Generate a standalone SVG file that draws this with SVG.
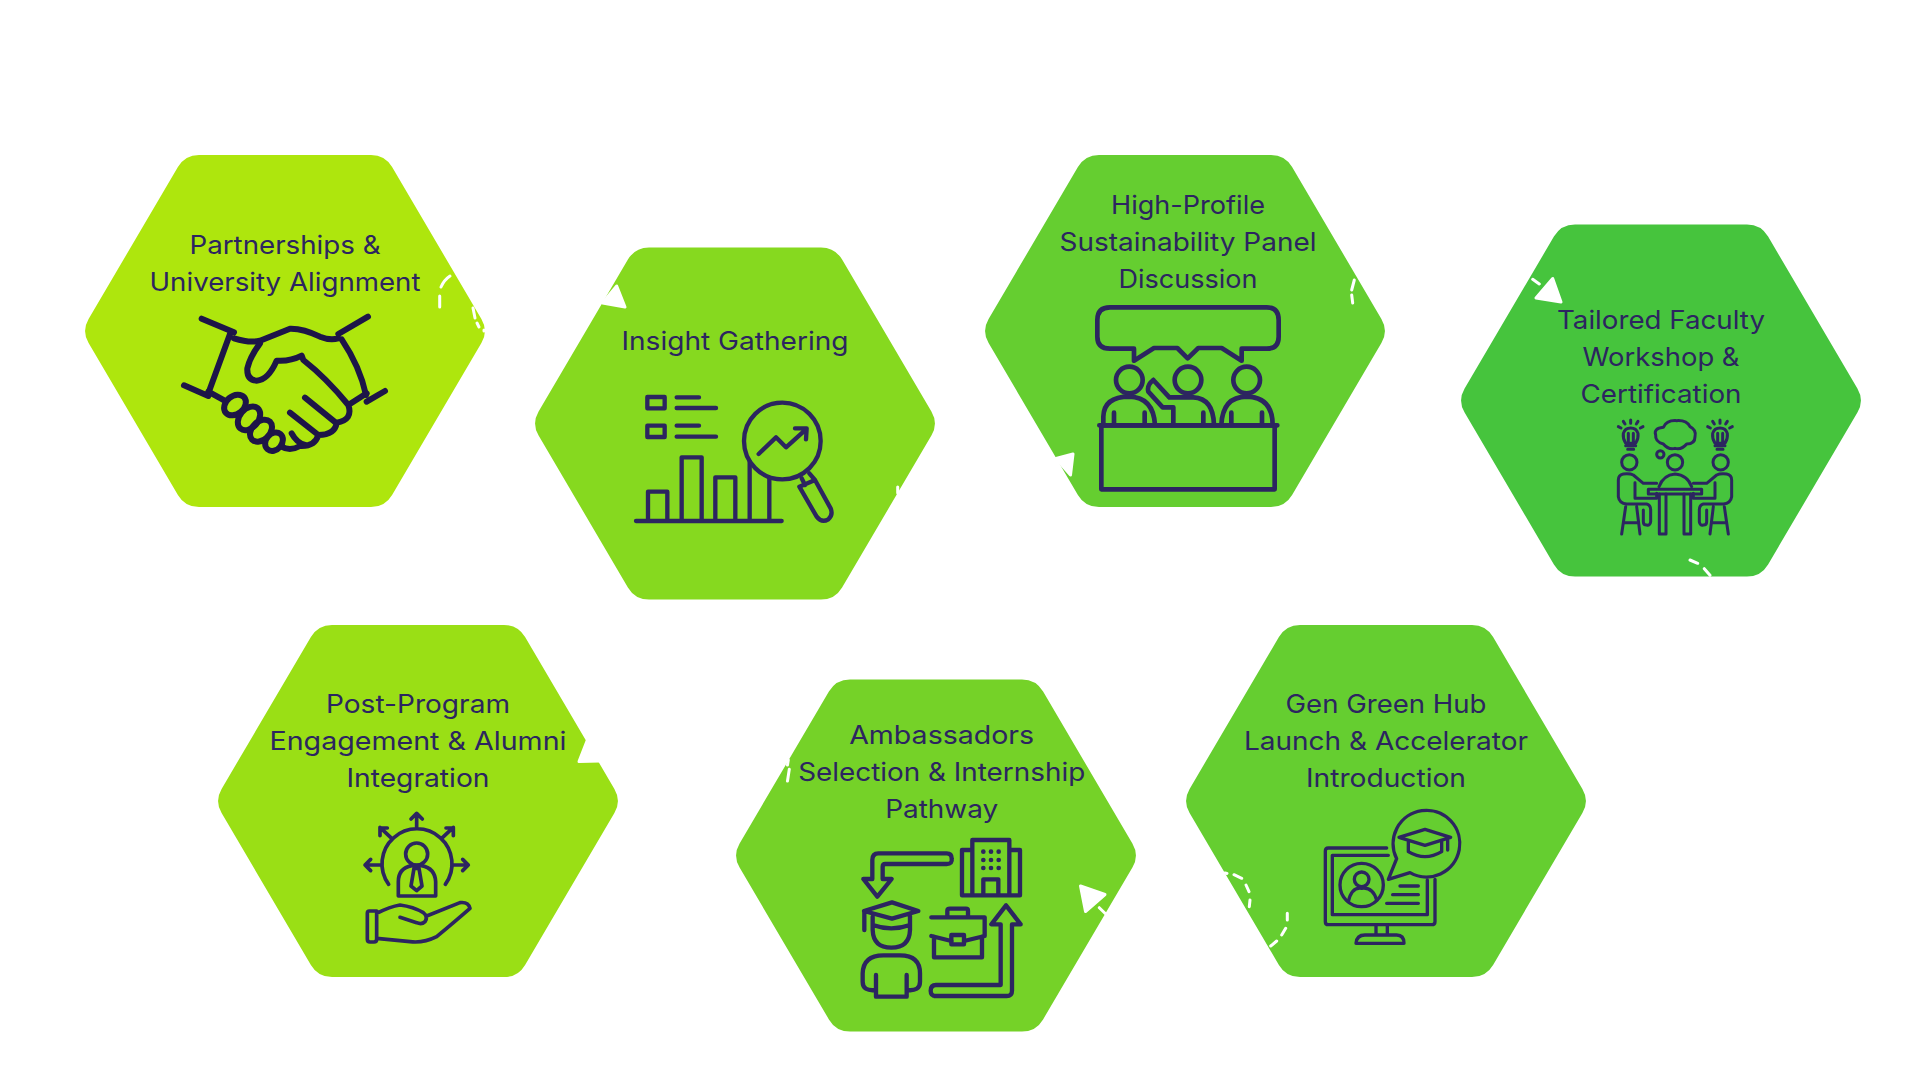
<svg xmlns="http://www.w3.org/2000/svg" width="1920" height="1080" viewBox="0 0 1920 1080">
<style>
text{font-family:"Inter","Open Sans","Liberation Sans",sans-serif;font-size:25.5px;fill:#2C2560;text-anchor:middle}
.ic{fill:none;stroke:#2C2560;stroke-linecap:round;stroke-linejoin:round}
.hs{stroke:#1D1548}
.dash{fill:none;stroke:#fff;stroke-width:3;stroke-linecap:round}
.tri{fill:#fff;stroke:#fff;stroke-width:3;stroke-linejoin:round}
</style>
<defs>
<path id="hex" d="M-86-176H86Q100-176 107.100-163.900L196.400-12.100Q203.500 0 196.400 12.100L107.100 163.900Q100 176 86 176H-86Q-100 176-107.100 163.900L-196.400 12.100Q-203.500 0-196.400-12.100L-107.100-163.900Q-100-176-86-176Z"/>
<g id="bulb"><path d="M497 670Q488 655 490 640A23 23 0 0 1 534 640Q536 655 527 670ZM505 640V670M520 640V670M497 677H527M503 688H521M475 620l8 4M490 604l5 8M512 600v10M534 604l-5 8M549 620l-8 4"/></g>
<g id="sitter"><path d="M590 790H550L520 765Q510 760 490 762Q475 765 475 780V830Q478 850 500 852H560Q572 855 572 870V905Q570 918 560 915Q550 915 550 905V870M525 788V835H590V820M497 860L485 942M530 860L540 942M493 908H535"/><circle cx="508" cy="727" r="23"/></g>
</defs>
<rect width="1920" height="1080" fill="#fff"/>

<g id="node-partnerships">
<use href="#hex" x="285" y="331" fill="#AEE60D"/>
<text x="285" y="254" textLength="191" lengthAdjust="spacingAndGlyphs">Partnerships &amp;</text>
<text x="285" y="291" textLength="271" lengthAdjust="spacingAndGlyphs">University Alignment</text>
<g class="ic hs" transform="translate(60 130) scale(.33333)" stroke-width="18">
<path d="M425 566L522 607M372 766L445 798M510 612L445 790M924 560L835 612M975 783L920 815M845 628Q900 710 918 795M522 625Q570 640 600 632Q650 612 690 596Q730 595 780 620Q810 632 835 625"/>
<path d="M600 640Q570 680 562 715Q560 750 590 752Q625 750 650 692Q690 695 725 677L730 690Q800 745 865 825Q880 870 830 878Q825 915 775 915Q765 950 720 948Q690 965 665 950M445 785L490 810M865 825L920 790M735 803L830 880M690 848L775 915M695 910Q710 938 735 945"/>
<ellipse cx="525" cy="825" rx="36" ry="27" transform="rotate(-40 525 825)"/>
<ellipse cx="567" cy="865" rx="40" ry="28" transform="rotate(-50 567 865)"/>
<ellipse cx="603" cy="902" rx="38" ry="27" transform="rotate(-45 603 902)"/>
<ellipse cx="642" cy="935" rx="30" ry="24" transform="rotate(-50 642 935)"/>
</g>
</g>

<g id="node-insight">
<use href="#hex" x="735" y="423.500" fill="#86D91F"/>
<text x="735" y="350" textLength="227" lengthAdjust="spacingAndGlyphs">Insight Gathering</text>
<g class="ic" transform="translate(520 230) scale(.33333)" stroke-width="13">
<rect x="382" y="501" width="52" height="34"/><rect x="382" y="587" width="52" height="34"/>
<path d="M470 502H537M470 534H588M470 587H537M470 620H588M348 873H785M384 873V785H442V873M485 873V682H545V873M586 873V742H646V873M689 873V695M748 873V745"/>
<circle cx="787" cy="633" r="115"/>
<path d="M716 672L768 622L798 652L858 598M825 595H860L858 628M845 745L855 765M868 730L885 750M838 770L890 860Q905 880 925 868Q940 855 932 835L885 750Z"/>
</g>
</g>

<g id="node-panel">
<use href="#hex" x="1185" y="331" fill="#65CE30"/>
<text x="1188" y="214" textLength="154" lengthAdjust="spacingAndGlyphs">High-Profile</text>
<text x="1188" y="251" textLength="257" lengthAdjust="spacingAndGlyphs">Sustainability Panel</text>
<text x="1188" y="288" textLength="139" lengthAdjust="spacingAndGlyphs">Discussion</text>
<g class="ic" transform="translate(980 140) scale(.33333)" stroke-width="14">
<path d="M462 662V626H390Q352 626 352 590V540Q352 502 390 502H860Q896 502 896 540V590Q896 626 860 626H785V662L725 624H655L623 655L592 624H522Z"/>
<circle cx="448" cy="720" r="40"/><circle cx="624" cy="720" r="40"/><circle cx="800" cy="720" r="40"/>
<path d="M370 855V830Q372 770 448 770Q520 772 525 855M568 772H640Q700 775 702 855M520 720L568 772M520 720Q500 735 505 755L548 802H580V850M724 855Q728 770 800 770Q878 772 878 855M402 818V855M494 818V855M670 818V855M754 818V855M846 818V855M358 856H892"/>
<rect x="364" y="856" width="520" height="192"/>
</g>
</g>

<g id="node-workshop">
<use href="#hex" x="1661" y="400.500" fill="#46C43D"/>
<text x="1661" y="328.700" textLength="208" lengthAdjust="spacingAndGlyphs">Tailored Faculty</text>
<text x="1661" y="365.700" textLength="157" lengthAdjust="spacingAndGlyphs">Workshop &amp;</text>
<text x="1661" y="402.700" textLength="161" lengthAdjust="spacingAndGlyphs">Certification</text>
<g class="ic" transform="translate(1460 220) scale(.33333)" stroke-width="9">
<use href="#bulb"/><use href="#bulb" x="268"/>
<path d="M610 672Q585 665 587 645Q580 625 610 622Q620 600 650 602Q680 600 690 620Q710 630 705 650Q705 672 680 672Q665 690 645 685Q625 690 610 672Z"/>
<circle cx="601" cy="703" r="11"/><circle cx="645" cy="727" r="23"/>
<use href="#sitter"/><use href="#sitter" transform="translate(1290 0) scale(-1 1)"/>
<rect x="565" y="808" width="160" height="14"/>
<path d="M598 822V942H618V822M672 822V942H692V822M597 800Q610 765 645 762Q682 765 695 800"/>
</g>
</g>

<g id="node-post-program">
<use href="#hex" x="418" y="801" fill="#9ADF15"/>
<text x="418" y="712.700" textLength="184" lengthAdjust="spacingAndGlyphs">Post-Program</text>
<text x="418" y="749.700" textLength="297" lengthAdjust="spacingAndGlyphs">Engagement &amp; Alumni</text>
<text x="418" y="786.700" textLength="143" lengthAdjust="spacingAndGlyphs">Integration</text>
<g class="ic" transform="translate(210 620) scale(.33333)" stroke-width="11">
<path d="M536 793A105 105 0 1 1 706 793M620 625V582M603 597L620 580L637 597M515 735H465M482 718L465 735L482 752M725 735H775M758 718L775 735L758 752M695 655L730 622M708 624H730V647M545 655L510 622M510 647V624H532"/>
<circle cx="620" cy="702" r="33"/>
<path d="M565 828V785Q565 745 605 737H635Q675 745 677 785V828ZM612 745L603 798L620 812L636 798L627 745Z"/>
<path d="M500 873H478Q472 873 472 880V958Q472 966 480 966H492Q500 966 500 958ZM500 880Q540 860 570 855Q610 860 640 878Q655 890 645 905Q635 915 620 908L570 892M650 888L750 848Q775 845 780 865Q740 900 680 950Q640 970 600 965L500 955"/>
</g>
</g>

<g id="node-ambassadors">
<use href="#hex" x="936" y="855.500" fill="#75D228"/>
<text x="941.700" y="744" textLength="185" lengthAdjust="spacingAndGlyphs">Ambassadors</text>
<text x="941.700" y="781" textLength="287" lengthAdjust="spacingAndGlyphs">Selection &amp; Internship</text>
<text x="941.700" y="818" textLength="113" lengthAdjust="spacingAndGlyphs">Pathway</text>
<g class="ic" transform="translate(730 680) scale(.33333)" stroke-width="13">
<path d="M665 535Q665 520 650 520H445Q427 520 427 540V597H400L442 650L485 597H458V560Q458 552 466 552H650Q668 552 665 535Z"/>
<path d="M696 510H727V480H838V510H870V646H696ZM727 510V646M838 510V646M760 646V598H805V646"/>
<g fill="#2C2560" stroke="none"><circle cx="760" cy="515" r="7"/><circle cx="783" cy="515" r="7"/><circle cx="806" cy="515" r="7"/><circle cx="760" cy="540" r="7"/><circle cx="783" cy="540" r="7"/><circle cx="806" cy="540" r="7"/><circle cx="760" cy="564" r="7"/><circle cx="783" cy="564" r="7"/><circle cx="806" cy="564" r="7"/></g>
<path d="M402 693L486 667L565 693L486 716ZM403 693V750M428 710V750Q430 803 484 803Q538 803 540 750V708M428 735Q484 755 540 735"/>
<path d="M438 885V950H530V885M438 930Q398 935 398 905V880Q400 826 460 826H510Q570 826 570 880V905Q570 935 530 930"/>
<path d="M604 712H764V768L702 783M664 783L604 768ZM612 770V832H756V770M652 712V692Q652 686 660 686H708Q714 686 714 692V712"/>
<rect x="664" y="765" width="38" height="28"/>
<path d="M612 948H830Q846 948 846 932V733H872L828 676L784 733H812V915H618Q602 915 602 932Q602 948 618 948Z"/>
</g>
</g>

<g id="node-hub">
<use href="#hex" x="1386" y="801" fill="#65CE30"/>
<text x="1386" y="712.700" textLength="201" lengthAdjust="spacingAndGlyphs">Gen Green Hub</text>
<text x="1386" y="749.700" textLength="284" lengthAdjust="spacingAndGlyphs">Launch &amp; Accelerator</text>
<text x="1386" y="786.700" textLength="160" lengthAdjust="spacingAndGlyphs">Introduction</text>
<g class="ic" transform="translate(1180 620) scale(.33333)" stroke-width="10">
<path d="M650 716A100 100 0 1 1 690 758L625 778Z"/>
<path d="M657 652L735 628L812 652L735 676ZM685 665V695Q735 725 785 695V665M803 655V690"/>
<path d="M620 684H445Q436 684 436 693V905Q436 914 445 914H755Q765 914 765 905V778M625 706H457V884H742V780"/>
<circle cx="545" cy="795" r="65"/><circle cx="545" cy="778" r="22"/>
<path d="M505 845Q515 800 545 805Q578 800 590 840M660 798H715M638 824H715M620 850H715M588 914V942M622 914V942M528 970Q530 945 555 945H650Q672 945 672 970Z"/>
</g>
</g>

<g id="connectors">
<path class="dash" d="M450 276Q444 280 441 287M439.700 296V307M473 308L475 318M477 323L479 327M484 330V331"/>
<path class="tri" d="M616.700 286L625 307L602.500 303Z"/>
<path class="dash" d="M897.700 487V493"/>
<path class="tri" d="M1073 454L1070.500 475L1056 458.500Z"/>
<path class="dash" d="M1354.300 280L1351.700 290M1351.700 295L1352.700 303"/>
<path class="tri" d="M1552.700 278.500L1561 302L1536 298Z"/>
<path class="dash" d="M1532.700 279.300L1539.300 284M1690 560L1697.700 563.300M1704.300 568.700L1710 575.300"/>
<path class="tri" d="M587 741L579 761.500L600 761L607 745Z"/>
<path class="tri" d="M1080.500 886L1105 894.500L1085.500 911.500Z"/>
<path class="dash" d="M1099.300 907.700L1105 913.300M788.300 760L787.500 765M789.300 769.300L787.500 781"/>
<path class="dash" d="M1225 873L1227 873.500M1234 874.700L1241.700 878.300M1246 885L1249 891.700M1250 900L1249.300 906.700M1287.300 913.300V920M1285.700 928.300L1281.700 935M1276.700 941L1270.700 946"/>
</g>
</svg>
